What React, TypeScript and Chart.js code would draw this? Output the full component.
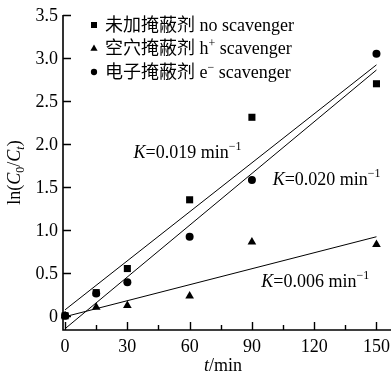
import React, { useEffect, useRef } from 'react';
import { Chart, registerables } from 'chart.js';

Chart.register(...registerables);

// ---- data ----
const times = [0, 15, 30, 60, 90, 150];
const noScavenger = [0, 0.27, 0.55, 1.35, 2.31, 2.7];
const holeScavenger = [0, 0.1, 0.12, 0.23, 0.86, 0.83];
const electronScavenger = [0, 0.26, 0.39, 0.92, 1.58, 3.05];

const fitTimes = [0, 150];
const fitNo = [0.07, 2.92];
const fitElectron = [-0.15, 2.86];
const fitHole = [-0.01, 0.92];

const xTicks = [0, 30, 60, 90, 120, 150];
const xMinorTicks = [15, 45, 75, 105, 135];
const yTicks = [0, 0.5, 1, 1.5, 2, 2.5, 3, 3.5];

const legendCJK = ['未加掩蔽剂', '空穴掩蔽剂', '电子掩蔽剂'];
const legendLatin = [' no scavenger', ' h', ' e'];
const legendSup = ['', '+', '\u2212'];
const legendTail = ['', ' scavenger', ' scavenger'];
const legendStyles = ['rect', 'triangle', 'circle'];

const kLabels = ['0.019', '0.020', '0.006'];
const kAnchors = [
  { t: 33, v: 1.84 },
  { t: 100, v: 1.52 },
  { t: 94.5, v: 0.34 },
];

const SERIF = '"Liberation Serif", "Times New Roman", serif';
const CJK = '"Noto Sans CJK SC", sans-serif';
const FS = 18;
const SUB = 12;

type Run = { text: string; font: string; dy?: number };

function drawRuns(ctx: CanvasRenderingContext2D, runs: Run[], x: number, y: number, align: 'left' | 'center' | 'right') {
  let total = 0;
  for (const r of runs) {
    ctx.font = r.font;
    total += ctx.measureText(r.text).width;
  }
  let cx = align === 'center' ? x - total / 2 : align === 'right' ? x - total : x;
  ctx.textAlign = 'left';
  ctx.textBaseline = 'alphabetic';
  for (const r of runs) {
    ctx.font = r.font;
    ctx.fillText(r.text, cx, y + (r.dy || 0));
    cx += ctx.measureText(r.text).width;
  }
}

function drawMarker(ctx: CanvasRenderingContext2D, style: string, x: number, y: number, s: number) {
  ctx.beginPath();
  if (style === 'rect') {
    ctx.rect(x - s, y - s, 2 * s, 2 * s);
  } else if (style === 'triangle') {
    const h = s * 1.2;
    ctx.moveTo(x, y - h);
    ctx.lineTo(x + h, y + h * 0.75);
    ctx.lineTo(x - h, y + h * 0.75);
    ctx.closePath();
  } else {
    ctx.arc(x, y, s * 1.05, 0, Math.PI * 2);
  }
  ctx.fill();
}

const overlayPlugin = {
  id: 'overlay',
  afterDraw(chart: any) {
    const ctx: CanvasRenderingContext2D = chart.ctx;
    const xs = chart.scales.x;
    const ys = chart.scales.y;
    const { left, right, top, bottom } = chart.chartArea;
    ctx.save();
    ctx.fillStyle = '#000';
    ctx.strokeStyle = '#000';

    // axes
    ctx.lineWidth = 1.6;
    ctx.beginPath();
    ctx.moveTo(left, top);
    ctx.lineTo(left, bottom);
    ctx.lineTo(right, bottom);
    ctx.stroke();

    // inward ticks
    ctx.lineWidth = 1.4;
    ctx.beginPath();
    for (const t of xTicks) {
      const px = Math.round(xs.getPixelForValue(t)) + 0.5;
      ctx.moveTo(px, bottom);
      ctx.lineTo(px, bottom - 8);
    }
    for (const t of xMinorTicks) {
      const px = Math.round(xs.getPixelForValue(t)) + 0.5;
      ctx.moveTo(px, bottom);
      ctx.lineTo(px, bottom - 5);
    }
    for (const v of yTicks) {
      const py = Math.round(ys.getPixelForValue(v)) + 0.5;
      ctx.moveTo(left, py);
      ctx.lineTo(left + 8, py);
    }
    ctx.stroke();

    // tick labels
    ctx.font = `${FS}px ${SERIF}`;
    ctx.textBaseline = 'alphabetic';
    ctx.textAlign = 'center';
    for (const t of xTicks) {
      ctx.fillText(String(t), xs.getPixelForValue(t), bottom + 22);
    }
    ctx.textAlign = 'right';
    for (const v of yTicks) {
      ctx.fillText(v === 0 ? '0' : v.toFixed(1), left - 5, ys.getPixelForValue(v) + 6);
    }

    // legend
    const lx = 94;
    const rows = [25, 48, 72];
    for (let i = 0; i < 3; i++) {
      drawMarker(ctx, legendStyles[i], lx, rows[i], 3);
      const runs: Run[] = [
        { text: legendCJK[i], font: `${FS}px ${CJK}` },
        { text: legendLatin[i], font: `${FS}px ${SERIF}` },
      ];
      if (legendSup[i]) runs.push({ text: legendSup[i], font: `${SUB}px ${SERIF}`, dy: -7 });
      if (legendTail[i]) runs.push({ text: legendTail[i], font: `${FS}px ${SERIF}` });
      drawRuns(ctx, runs, 105, rows[i] + 6, 'left');
    }

    // K annotations
    for (let i = 0; i < kLabels.length; i++) {
      const ax = xs.getPixelForValue(kAnchors[i].t);
      const ay = ys.getPixelForValue(kAnchors[i].v);
      drawRuns(
        ctx,
        [
          { text: 'K', font: `italic ${FS}px ${SERIF}` },
          { text: `=${kLabels[i]} min`, font: `${FS}px ${SERIF}` },
          { text: '\u22121', font: `${SUB}px ${SERIF}`, dy: -8 },
        ],
        ax,
        ay,
        'left'
      );
    }

    // x title
    drawRuns(
      ctx,
      [
        { text: 't', font: `italic ${FS}px ${SERIF}` },
        { text: '/min', font: `${FS}px ${SERIF}` },
      ],
      223,
      371,
      'center'
    );

    // y title
    ctx.save();
    ctx.translate(20, (top + bottom) / 2);
    ctx.rotate(-Math.PI / 2);
    drawRuns(
      ctx,
      [
        { text: 'ln(', font: `${FS}px ${SERIF}` },
        { text: 'C', font: `italic ${FS}px ${SERIF}` },
        { text: '0', font: `${SUB}px ${SERIF}`, dy: 4 },
        { text: '/', font: `${FS}px ${SERIF}` },
        { text: 'C', font: `italic ${FS}px ${SERIF}` },
        { text: 't', font: `italic ${SUB}px ${SERIF}`, dy: 4 },
        { text: ')', font: `${FS}px ${SERIF}` },
      ],
      0,
      0,
      'center'
    );
    ctx.restore();

    ctx.restore();
  },
};

export default function App() {
  const canvasRef = useRef<HTMLCanvasElement | null>(null);

  useEffect(() => {
    document.body.style.margin = '0';
    const canvas = canvasRef.current;
    if (!canvas) return;

    const pts = (ys: number[]) => times.map((t, i) => ({ x: t, y: ys[i] }));
    const fit = (ys: number[]) => fitTimes.map((t, i) => ({ x: t, y: ys[i] }));

    const lineDs = (ys: number[]) => ({
      type: 'line' as const,
      data: fit(ys),
      borderColor: '#000',
      borderWidth: 1,
      pointRadius: 0,
      fill: false,
      order: 2,
    });
    const ptDs = (ys: number[], style: string, r: number) => ({
      type: 'scatter' as const,
      data: pts(ys),
      pointStyle: style,
      pointRadius: r,
      backgroundColor: '#000',
      borderColor: '#000',
      borderWidth: 0,
      order: 1,
    });

    const chart = new Chart(canvas, {
      type: 'scatter',
      data: {
        datasets: [
          lineDs(fitNo),
          lineDs(fitElectron),
          lineDs(fitHole),
          ptDs(noScavenger, 'rect', 5),
          ptDs(holeScavenger, 'triangle', 5),
          ptDs(electronScavenger, 'circle', 4),
        ] as any,
      },
      options: {
        animation: false,
        responsive: false,
        events: [],
        clip: false as any,
        layout: { autoPadding: false, padding: { top: 15, left: 0, right: 0, bottom: 0 } },
        plugins: { legend: { display: false }, tooltip: { enabled: false } },
        scales: {
          x: {
            type: 'linear',
            min: -1,
            max: 157,
            grid: { display: false },
            border: { display: false },
            ticks: { display: false },
            afterFit: (s: any) => {
              s.height = 46;
              s.paddingLeft = 0;
              s.paddingRight = 0;
            },
          },
          y: {
            type: 'linear',
            min: -0.165,
            max: 3.5,
            grid: { display: false },
            border: { display: false },
            ticks: { display: false },
            afterFit: (s: any) => {
              s.width = 63;
              s.paddingTop = 0;
              s.paddingBottom = 0;
            },
          },
        },
      },
      plugins: [overlayPlugin],
    });

    return () => chart.destroy();
  }, []);

  return (
    <div style={{ width: 391, height: 376 }}>
      <canvas ref={canvasRef} width={391} height={376} style={{ display: 'block' }} />
    </div>
  );
}
